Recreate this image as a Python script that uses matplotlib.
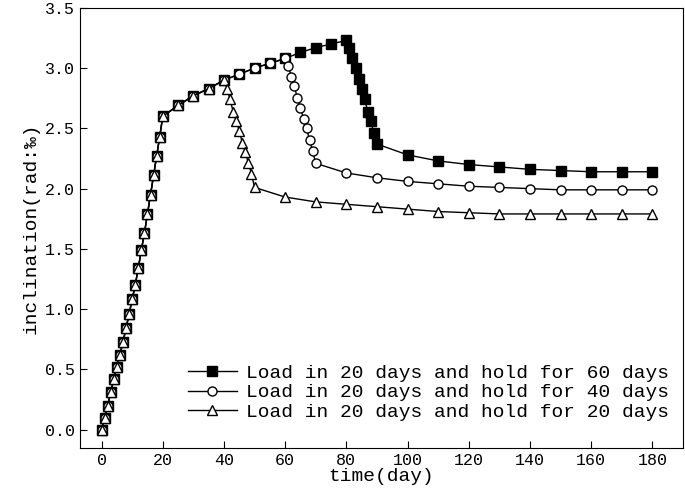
import matplotlib
matplotlib.use("Agg")
import matplotlib.pyplot as plt
import numpy as np

load_days = list(range(0, 21))
load_vals = [0, 0.1, 0.2, 0.31, 0.42, 0.52, 0.62, 0.73, 0.84, 0.96, 1.08, 1.2, 1.34, 1.49, 1.63, 1.79, 1.95, 2.11, 2.27, 2.43, 2.6]
hold_days = [25, 30, 35, 40, 45, 50, 55, 60, 65, 70, 75, 80]
hold_vals = [2.69, 2.77, 2.83, 2.9, 2.95, 3.0, 3.04, 3.08, 3.13, 3.17, 3.2, 3.23]

drop20_days = list(range(41, 51))
drop20_vals = [2.83, 2.74, 2.64, 2.56, 2.48, 2.38, 2.30, 2.21, 2.12, 2.01]
drop40_days = list(range(61, 71))
drop40_vals = [3.02, 2.93, 2.85, 2.75, 2.67, 2.58, 2.50, 2.40, 2.31, 2.21]
drop60_days = list(range(81, 91))
drop60_vals = [3.17, 3.08, 3.0, 2.91, 2.83, 2.74, 2.64, 2.56, 2.46, 2.37]

tail20_days = list(range(60, 181, 10))
tail20_vals = [1.93, 1.89, 1.87, 1.85, 1.83, 1.81, 1.80, 1.79, 1.79, 1.79, 1.79, 1.79, 1.79]
tail40_days = list(range(80, 181, 10))
tail40_vals = [2.13, 2.09, 2.06, 2.04, 2.02, 2.01, 2.0, 1.99, 1.99, 1.99, 1.99]
tail60_days = list(range(100, 181, 10))
tail60_vals = [2.28, 2.23, 2.20, 2.18, 2.16, 2.15, 2.14, 2.14, 2.14]

labels = ["Load in 20 days and hold for 60 days",
          "Load in 20 days and hold for 40 days",
          "Load in 20 days and hold for 20 days"]

def series(hold_end, dd, dv, td, tv):
    hd = [d for d in hold_days if d <= hold_end]
    hv = hold_vals[:len(hd)]
    return load_days + hd + dd + td, load_vals + hv + dv + tv

plt.rcParams["font.family"] = "Liberation Mono"
fig = plt.figure(figsize=(6.85, 4.92), dpi=100)
ax = fig.add_axes([0.117, 0.09, 0.88, 0.894])
x60, y60 = series(80, drop60_days, drop60_vals, tail60_days, tail60_vals)
x40, y40 = series(60, drop40_days, drop40_vals, tail40_days, tail40_vals)
x20, y20 = series(40, drop20_days, drop20_vals, tail20_days, tail20_vals)
kw = dict(color="black", lw=1, ms=6.5, mec="black")
ax.plot(x60, y60, marker="s", mfc="black", label=labels[0], **kw)
ax.plot(x40, y40, marker="o", mfc="white", label=labels[1], **kw)
ax.plot(x20, y20, marker="^", mfc="white", label=labels[2], **kw)
ax.set_xlim(-7, 190)
ax.set_ylim(-0.15, 3.5)
ax.set_xticks(range(0, 181, 20))
ax.set_yticks(np.arange(0, 3.51, 0.5))
ax.set_yticklabels([f"{v:.1f}" for v in np.arange(0, 3.51, 0.5)])
ax.tick_params(direction="in", labelsize=12, length=5)
ax.set_xlabel("time(day)", fontsize=14, labelpad=0)
ax.set_ylabel("inclination(rad:‰)", fontsize=14)
ax.legend(loc="lower right", frameon=False, fontsize=14, handlelength=2.5,
          borderaxespad=0.3, handletextpad=0.5, labelspacing=0.1, bbox_to_anchor=(1.0, 0.03))
fig.savefig("out.png", dpi=100)
